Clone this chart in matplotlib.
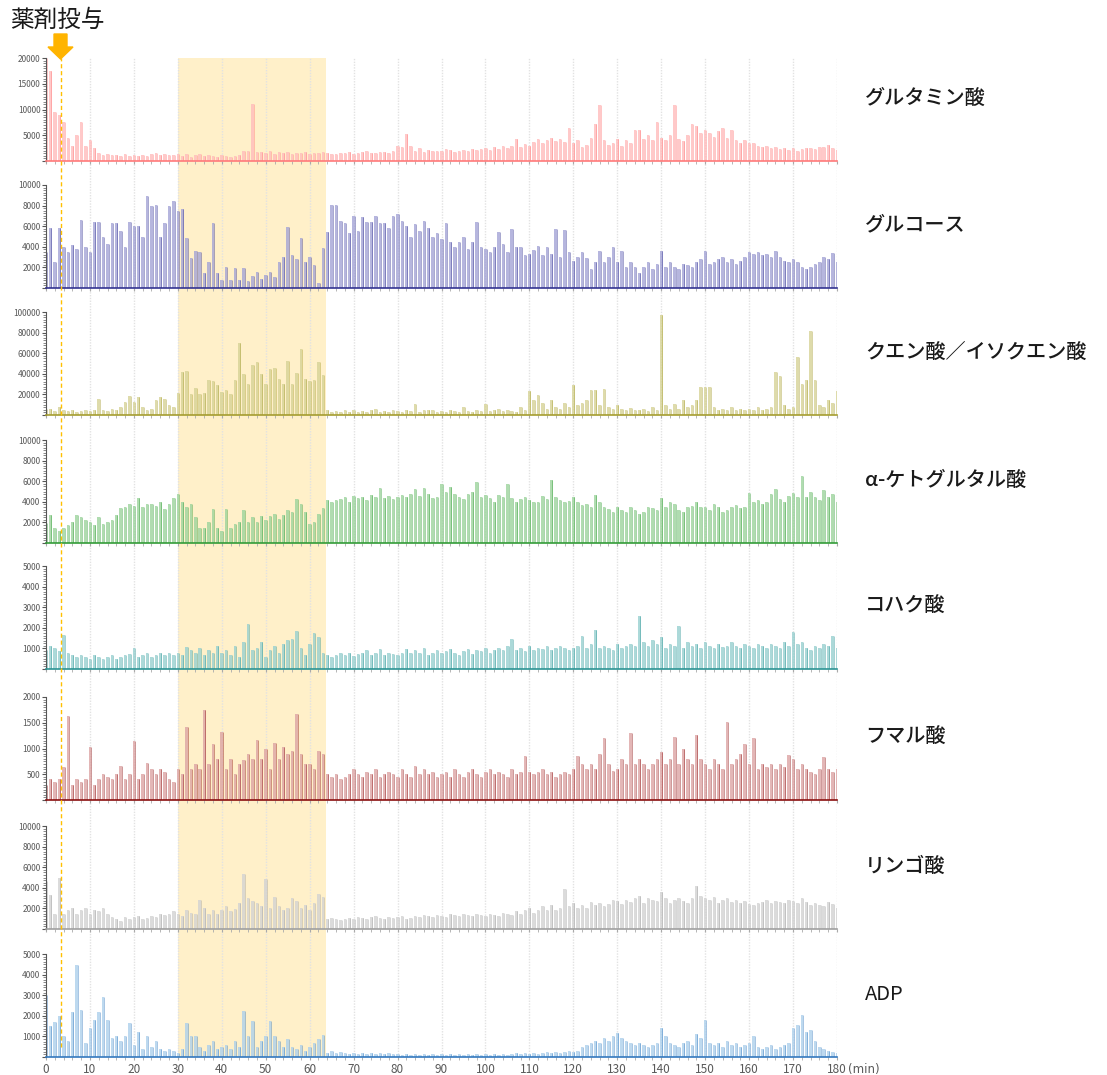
import numpy as np
import matplotlib
matplotlib.use("Agg")
from matplotlib import pyplot as plt
from matplotlib.ticker import MultipleLocator, FuncFormatter
import matplotlib.patches as mpatches
from matplotlib.transforms import IdentityTransform

plt.rcParams["font.family"] = ["Noto Sans CJK JP", "DejaVu Sans"]

# time axis (min), one reading per minute
minutes = np.arange(0, 181)

glutamate = [
    20000, 17500, 9500, 9000, 7500, 4500, 3000, 5000, 7500, 3000,
    4000, 2500, 1500, 1200, 1300, 1100, 1200, 1000, 1400, 900,
    1100, 1000, 1200, 1000, 1300, 1500, 1200, 1400, 1100, 1200,
    1300, 1000, 1400, 800, 1200, 1300, 900, 1100, 1000, 800,
    1200, 900, 700, 1000, 1100, 1900, 2000, 11000, 1800, 1700,
    1600, 1900, 1400, 1800, 1500, 1700, 1400, 1600, 1500, 1800,
    1400, 1500, 1600, 1700, 1600, 1400, 1300, 1500, 1600, 1700,
    1400, 1500, 1700, 1900, 1600, 1500, 1800, 1700, 1600, 2000,
    3000, 2800, 5200, 3000, 2000, 2500, 1800, 2100, 2000, 1900,
    2000, 2300, 2100, 1800, 2000, 2200, 1900, 2400, 2100, 2300,
    2500, 2200, 2800, 2400, 2900, 2500, 3000, 4200, 2800, 3300,
    3000, 3600, 4200, 3500, 4000, 4500, 3800, 4200, 3600, 6500,
    3500, 4000, 2800, 3200, 4500, 7100, 10900, 4000, 3200, 3500,
    4200, 3000, 4000, 3500, 6100, 6000, 4200, 5000, 4000, 7600,
    4500, 4000, 5000, 10900, 4200, 3800, 5000, 7100, 6700, 5500,
    6000, 5500, 4700, 5800, 6500, 4500, 6000, 4000, 3500, 4000,
    3500, 3400, 3000, 2800, 3000, 2500, 2700, 2300, 2600, 2200,
    2500, 2000, 2300, 2500, 2600, 2400, 2700, 2800, 3200, 2600,
    2200,
]

glucose = [
    3500, 5800, 2500, 5800, 4000, 3500, 4200, 3800, 6600, 4000,
    3500, 6400, 6400, 5000, 4300, 6300, 6300, 5500, 4000, 6400,
    6000, 6000, 5000, 8900, 8000, 8100, 5000, 6300, 8000, 8400,
    7500, 7700, 4900, 2900, 3600, 3500, 1500, 2500, 6300, 1500,
    800, 2000, 800, 1900, 800, 1900, 700, 1200, 1600, 900,
    1300, 1600, 1100, 2500, 3000, 5900, 3200, 2800, 4900, 2500,
    3000, 2200, 500, 3900, 5400, 8100, 8100, 6500, 6300, 5300,
    7000, 5500, 6900, 6400, 6400, 7000, 6300, 6300, 5800, 7000,
    7200, 6500, 6000, 5000, 6200, 5500, 6500, 5800, 5000, 5300,
    4800, 6300, 4500, 4000, 4500, 5000, 3800, 4500, 6400, 4000,
    3800, 3500, 4000, 5400, 4300, 3500, 5700, 4000, 4000, 3200,
    3300, 3700, 4100, 3200, 4000, 3300, 5700, 3000, 5600, 3500,
    2600, 3000, 3500, 2900, 1800, 2500, 3600, 2500, 3000, 4000,
    2500, 3600, 2000, 2500, 2000, 1500, 2000, 2500, 1800, 2300,
    3600, 2000, 2500, 2000, 1800, 2300, 2200, 2000, 2500, 2800,
    3600, 2300, 2500, 2800, 3000, 2500, 2800, 2300, 2600, 3000,
    3500, 3300, 3500, 3200, 3300, 3000, 3600, 3000, 2600, 2500,
    2800, 2500, 2000, 1800, 2000, 2300, 2500, 3000, 2800, 3400,
    2500,
]

citrate = [
    6000, 6000, 4000, 8000, 5000, 4000, 5000, 3000, 4000, 5000,
    4000, 5000, 16000, 5000, 4000, 6000, 5000, 8000, 13000, 18000,
    13000, 17000, 8000, 5000, 6000, 15000, 17000, 16000, 10000, 8000,
    21000, 42000, 43000, 20000, 26000, 20000, 21000, 34000, 33000, 29000,
    22000, 24000, 20000, 34000, 70000, 40000, 30000, 49000, 51000, 40000,
    30000, 45000, 46000, 35000, 30000, 52000, 30000, 41000, 64000, 35000,
    33000, 34000, 51000, 39000, 5000, 3000, 4000, 3000, 5000, 3000,
    5000, 3000, 4000, 3000, 5000, 6000, 3000, 4000, 3000, 5000,
    4000, 3000, 5000, 4000, 11000, 3000, 5000, 5000, 5000, 3000,
    4000, 3000, 5000, 4000, 3000, 8000, 4000, 3000, 5000, 4000,
    11000, 4000, 5000, 6000, 4000, 5000, 4000, 3000, 8000, 5000,
    23000, 15000, 19000, 12000, 6000, 15000, 8000, 6000, 12000, 8000,
    29000, 10000, 12000, 15000, 24000, 24000, 10000, 25000, 8000, 6000,
    10000, 6000, 5000, 7000, 5000, 5000, 6000, 4000, 8000, 5000,
    97000, 10000, 6000, 11000, 6000, 15000, 8000, 10000, 15000, 27000,
    27000, 27000, 8000, 5000, 6000, 5000, 8000, 5000, 6000, 5000,
    6000, 5000, 8000, 5000, 6000, 8000, 42000, 38000, 10000, 6000,
    8000, 56000, 30000, 34000, 82000, 34000, 10000, 8000, 15000, 12000,
    23000,
]

akg = [
    1900, 2700, 1500, 1200, 1500, 1700, 2000, 2700, 2500, 2200,
    2000, 1700, 2500, 1800, 2000, 2200, 2700, 3400, 3500, 3800,
    3600, 4400, 3500, 3800, 3800, 3600, 4000, 3300, 3800, 4400,
    4800, 4000, 3500, 3800, 2500, 1500, 1500, 2000, 3300, 1500,
    1200, 3300, 1500, 1800, 2000, 3200, 2000, 2500, 2000, 2600,
    2200, 2600, 2800, 2300, 2700, 3200, 3000, 4300, 3800, 3000,
    1800, 2000, 2800, 3400, 4200, 4000, 4200, 4300, 4500, 4000,
    4600, 4400, 4500, 4200, 4700, 4500, 5300, 4400, 4600, 4300,
    4500, 4700, 4500, 4800, 5200, 4600, 5300, 4800, 4400, 4500,
    5700, 5000, 5400, 4800, 4500, 4300, 4800, 5000, 5900, 4500,
    4700, 4400, 4000, 4700, 4500, 5700, 4400, 4000, 4300, 4500,
    4200, 4000, 4000, 4600, 4300, 6100, 4500, 4200, 4000, 4100,
    4500, 4000, 3700, 3800, 3500, 4700, 4000, 3500, 3300, 3000,
    3500, 3200, 3000, 3500, 3200, 2800, 3000, 3500, 3400, 3200,
    4400, 3500, 4000, 3800, 3200, 3000, 3500, 3600, 4000, 3500,
    3500, 3200, 3800, 3500, 3000, 3200, 3500, 3700, 3400, 3500,
    4900, 4000, 4200, 3800, 4000, 4800, 5200, 4300, 4000, 4600,
    4900, 4500, 6500, 4500, 5000, 4500, 4200, 5100, 4500, 4800,
    4000,
]

succinate = [
    900, 1100, 1000, 850, 1650, 800, 700, 600, 700, 600,
    500, 700, 600, 500, 600, 700, 500, 600, 700, 750,
    1000, 600, 700, 800, 600, 700, 800, 700, 800, 700,
    800, 700, 1050, 900, 800, 1000, 700, 900, 800, 1100,
    800, 900, 700, 1100, 600, 1300, 2200, 900, 1000, 1300,
    600, 900, 1100, 800, 1200, 1400, 1450, 1850, 1000, 700,
    1200, 1750, 1550, 800, 700, 600, 700, 800, 700, 800,
    650, 750, 800, 900, 700, 800, 950, 700, 800, 750,
    700, 800, 950, 800, 900, 800, 1000, 700, 800, 900,
    800, 850, 950, 800, 700, 850, 950, 750, 900, 850,
    1000, 800, 900, 1000, 900, 1100, 1450, 900, 1000, 850,
    1100, 900, 1000, 950, 1100, 900, 1000, 1100, 1000, 900,
    1000, 1100, 1600, 1000, 1200, 1900, 1000, 1100, 1000, 900,
    1200, 1000, 1100, 1200, 1100, 2550, 1300, 1100, 1400, 1200,
    1550, 1000, 1200, 1100, 2100, 1000, 1300, 1100, 1200, 1000,
    1300, 1100, 1000, 1200, 1050, 1100, 1300, 1100, 1000, 1200,
    1100, 1000, 1200, 1100, 1000, 1200, 1100, 1000, 1300, 1100,
    1800, 1200, 1300, 1000, 900, 1100, 1000, 1200, 1100, 1600,
    1000,
]

fumarate = [
    300, 400, 350, 400, 650, 1630, 300, 400, 350, 400,
    1030, 300, 400, 500, 450, 400, 500, 660, 400, 500,
    1140, 400, 500, 710, 600, 500, 600, 550, 400, 350,
    600, 500, 1420, 600, 700, 600, 1740, 700, 1090, 800,
    1320, 600, 800, 500, 700, 770, 900, 800, 1160, 800,
    1000, 600, 1110, 800, 1020, 900, 950, 1670, 900, 700,
    690, 600, 950, 890, 500, 450, 500, 400, 450, 500,
    600, 500, 450, 550, 500, 600, 450, 500, 550, 500,
    450, 600, 500, 450, 660, 500, 600, 500, 550, 450,
    500, 550, 450, 600, 500, 450, 550, 600, 500, 450,
    550, 600, 500, 550, 500, 450, 600, 500, 550, 850,
    550, 500, 550, 600, 500, 550, 450, 500, 550, 500,
    600, 850, 700, 600, 700, 600, 900, 1210, 700, 560,
    600, 800, 700, 1300, 700, 800, 700, 600, 700, 800,
    930, 700, 800, 1220, 700, 1000, 800, 700, 1270, 800,
    700, 600, 800, 700, 600, 1510, 700, 800, 900, 1090,
    700, 1210, 600, 700, 650, 700, 600, 700, 650, 870,
    800, 600, 700, 600, 550, 500, 600, 840, 600, 550,
    600,
]

malate = [
    4700, 3300, 1500, 5000, 1500, 1850, 2000, 1500, 1800, 2000,
    1500, 1800, 1700, 2000, 1500, 1200, 1000, 800, 1200, 1000,
    1200, 1300, 1000, 1100, 1300, 1200, 1500, 1400, 1500, 1700,
    1500, 1300, 1800, 1600, 1500, 2800, 2000, 1500, 1800, 1500,
    1800, 2200, 1700, 1900, 2500, 5300, 3000, 2700, 2500, 2200,
    4900, 2000, 3100, 2200, 1800, 2000, 3000, 2700, 2000, 2300,
    1800, 2500, 3400, 3100, 1000, 1100, 1000, 900, 1000, 1100,
    1000, 1200, 1100, 1000, 1200, 1300, 1100, 1000, 1200, 1100,
    1200, 1300, 1000, 1100, 1300, 1200, 1400, 1300, 1200, 1400,
    1300, 1200, 1500, 1400, 1300, 1500, 1400, 1300, 1500, 1400,
    1300, 1500, 1400, 1300, 1600, 1500, 1400, 1700, 1500, 1800,
    2000, 1600, 1800, 2200, 1800, 2300, 1800, 2000, 3900, 2200,
    2500, 2000, 2300, 2000, 2600, 2300, 2500, 2200, 2400, 2800,
    2700, 2400, 2800, 2600, 3000, 3200, 2500, 3000, 2800, 2700,
    3600, 3000, 2500, 2800, 3000, 2700, 2500, 3000, 4200, 3200,
    3000, 2800, 3100, 2500, 2800, 3000, 2600, 2800, 2500, 2700,
    2400, 2300, 2500, 2600, 2800, 2500, 2700, 2600, 2500, 2800,
    2700, 2500, 3000, 2600, 2300, 2500, 2300, 2200, 2600, 2400,
    2000,
]

adp = [
    3000, 1500, 1700, 2000, 1000, 800, 2200, 4450, 2300, 700,
    1400, 1800, 2200, 2900, 1800, 900, 1000, 800, 1000, 1650,
    600, 1200, 400, 1000, 500, 800, 400, 300, 400, 300,
    200, 400, 1650, 1000, 1000, 500, 300, 600, 800, 400,
    500, 600, 400, 800, 500, 2250, 1000, 1750, 500, 800,
    1000, 1750, 1000, 800, 500, 850, 500, 400, 600, 300,
    500, 700, 850, 1050, 200, 300, 200, 250, 200, 150,
    200, 150, 200, 150, 200, 150, 200, 150, 200, 150,
    150, 100, 150, 100, 150, 100, 150, 100, 150, 100,
    150, 100, 150, 100, 150, 100, 150, 100, 150, 100,
    150, 100, 150, 100, 150, 100, 150, 200, 150, 200,
    150, 200, 150, 200, 250, 200, 250, 200, 250, 300,
    250, 300, 500, 600, 700, 800, 700, 900, 800, 1000,
    1150, 900, 800, 700, 600, 700, 600, 500, 600, 700,
    1400, 1000, 700, 600, 500, 700, 800, 600, 1100, 900,
    1800, 700, 600, 700, 500, 800, 600, 700, 500, 600,
    700, 1000, 500, 400, 500, 600, 400, 500, 600, 700,
    1400, 1550, 2050, 1200, 1300, 800, 500, 400, 300, 250,
    200,
]

names = ["グルタミン酸", "グルコース", "クエン酸／イソクエン酸", "α-ケトグルタル酸",
         "コハク酸", "フマル酸", "リンゴ酸", "ADP"]
series = [glutamate, glucose, citrate, akg, succinate, fumarate, malate, adp]
ymax = [20000, 10000, 100000, 10000, 5000, 2000, 10000, 5000]
ystep = [5000, 2000, 20000, 2000, 1000, 500, 2000, 1000]
light = ["#ffbcbc", "#a4a4d6", "#d6d396", "#9dd49d", "#98d0d0", "#dda4a4", "#d2d2d2", "#add0ec"]
dark = ["#ff7a7a", "#333391", "#a59d30", "#339c38", "#2c9494", "#8b1010", "#a0a0a0", "#3378be"]

dose_time = 3.3
shade = (30, 63.8)

W, H = 1107, 1075
fig = plt.figure(figsize=(W / 100, H / 100), dpi=100)

left = 46 / W
width = (837 - 46) / W
tops = [58, 185, 312, 440, 566, 697, 826, 954]
ph = 103


def fy(y):
    return 1 - y / H


# background: shaded interval and vertical grid running through all panels
bg = fig.add_axes([left, fy(tops[-1] + ph), width, fy(tops[0]) - fy(tops[-1] + ph)])
bg.set_xlim(0, 180)
bg.set_ylim(0, 1)
bg.axvspan(*shade, color="#fff0c9", lw=0)
for g in range(10, 181, 10):
    bg.axvline(g, color="#e2e2e2", ls=(0, (1, 1)), lw=1)
bg.axis("off")

for i, (vals, name) in enumerate(zip(series, names)):
    ax = fig.add_axes([left, fy(tops[i] + ph), width, ph / H])
    ax.patch.set_alpha(0)
    v = np.array(vals)
    ax.bar(minutes, v, width=0.6, color=light[i], lw=0, alpha=0.8)
    ax.vlines(minutes + 0.25, 0, v, color=dark[i], lw=0.5, alpha=0.6)
    ax.set_xlim(0, 180)
    ax.set_ylim(0, ymax[i])
    for s in ["top", "right"]:
        ax.spines[s].set_visible(False)
    ax.spines["left"].set_color("#555555")
    ax.spines["bottom"].set_color(dark[i])
    ax.spines["bottom"].set_linewidth(1.2)
    ax.yaxis.set_major_locator(MultipleLocator(ystep[i]))
    ax.yaxis.set_minor_locator(MultipleLocator(ymax[i] / 40))
    ax.yaxis.set_major_formatter(FuncFormatter(lambda y, p: "" if y == 0 else f"{int(y)}"))
    ax.tick_params(axis="y", which="major", labelsize=6, labelcolor="#595959",
                   color="#555555", length=3, pad=1)
    ax.tick_params(axis="y", which="minor", color="#777777", length=2)
    ax.xaxis.set_major_locator(MultipleLocator(10))
    ax.xaxis.set_minor_locator(MultipleLocator(2))
    ax.tick_params(axis="x", which="both", color="#aaaaaa", length=2)
    if i < len(series) - 1:
        ax.tick_params(axis="x", labelbottom=False)
    else:
        ax.tick_params(axis="x", labelsize=8.5, labelcolor="#595959", pad=2)
        ax.text(182.5, -0.06, "(min)", transform=ax.get_xaxis_transform(),
                fontsize=8.5, color="#595959", va="top", ha="left", family=["DejaVu Sans"])
    fig.text(865 / W, fy(tops[i] + 40), name, fontsize=14.5, va="center", ha="left",
             color="#1a1a1a", weight="medium" if name != "ADP" else "normal")

# overlay: dose marker
ov = fig.add_axes(bg.get_position())
ov.set_xlim(0, 180)
ov.set_ylim(0, 1)
ov.axvline(dose_time, ymin=0.01, ymax=1, color="#ffc000", ls=(0, (3, 2)), lw=1)
ov.axis("off")

xpix = 46 + dose_time * (791 / 180)
arrow = mpatches.FancyArrow(xpix, H - 34, 0, -25, width=13, head_width=25, head_length=12,
                            length_includes_head=True, color="#ffb400", transform=IdentityTransform())
fig.patches.append(arrow)
fig.text(10 / W, fy(20), "薬剤投与", fontsize=17, va="center", ha="left", color="#1a1a1a")

fig.savefig("out.png", dpi=100)
